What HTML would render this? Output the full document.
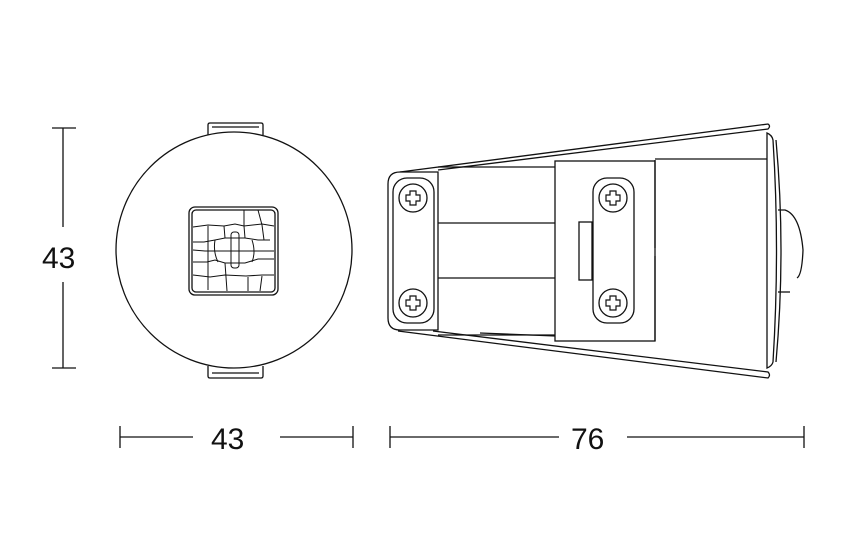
<!DOCTYPE html>
<html><head><style>
html,body{margin:0;padding:0;background:#fff;}
svg{display:block;}
text{font-family:"Liberation Sans",sans-serif;font-size:30px;fill:#111;}
</style></head><body>
<svg width="850" height="536" viewBox="0 0 850 536" xmlns="http://www.w3.org/2000/svg">
<g stroke="#111" stroke-width="1.3" fill="none">
<!-- dimension left vertical -->
<line x1="52" y1="128" x2="76" y2="128"/>
<line x1="63" y1="128" x2="63" y2="227"/>
<line x1="63" y1="282" x2="63" y2="368"/>
<line x1="52" y1="368" x2="76" y2="368"/>
<!-- bottom dims -->
<line x1="120" y1="426" x2="120" y2="448"/>
<line x1="120" y1="437" x2="193" y2="437"/>
<line x1="280" y1="437" x2="353" y2="437"/>
<line x1="353" y1="426" x2="353" y2="448"/>
<line x1="390" y1="426" x2="390" y2="448"/>
<line x1="390" y1="437" x2="559" y2="437"/>
<line x1="627" y1="437" x2="804" y2="437"/>
<line x1="804" y1="426" x2="804" y2="448"/>

<!-- circle view -->
<path d="M208,135 V125 Q208,123 210,123 H261 Q263,123 263,125 V135"/>
<line x1="212" y1="127" x2="259" y2="127"/>
<path d="M208,366 V376 Q208,378 210,378 H261 Q263,378 263,376 V366"/>
<line x1="212" y1="373" x2="259" y2="373"/>
<circle cx="234" cy="250" r="118" fill="#fff"/>
<rect x="189" y="207" width="89" height="88" rx="6"/>
<rect x="192" y="210" width="83" height="82" rx="4"/>
<g stroke-width="1">
<path d="M193,227 L208,225 L224,226 L235,224 L244,226 L262,224 L274,226"/>
<path d="M193,242 L204,242 L215,240 L225,238 L245,238 L258,240 L270,240"/>
<path d="M193,250 L205,251 L215,251 L245,251 L258,251 L274,251"/>
<path d="M193,262 L207,262 L215,260 L225,263 L245,263 L258,259 L274,259"/>
<path d="M193,275 L210,277 L225,275 L246,276 L262,275 L274,275"/>
<path d="M224,226 L225,238 M244,226 L245,238"/>
<path d="M208,226 L208,290 M225,263 L227,291 M248,277 L248,291 M262,276 L260,291"/>
<path d="M244,210 L244,226 M258,210 L262,225 M262,225 L264,240"/>
<rect x="231" y="232" width="8" height="36" rx="3"/>
<path d="M215,240 Q213,252 218,262 M252,240 Q256,252 252,262"/>
</g>

<!-- side view -->
<!-- flange lines -->
<path d="M400,172 L768,124 Q771,126 768,129 L438,170"/>
<path d="M433,331 L768,372 Q771,375 768,378 L398,331"/>
<path d="M480,333 L555,336"/>
<!-- front flange -->
<path d="M767,133 Q772,135 773,140 Q780,250 773,362 Q772,366 767,368 Z"/>
<path d="M776,140 Q786,250 776,362"/>
<!-- knob -->
<path d="M778,210 H785 Q800,215 803,250 Q802,275 797,278"/>
<line x1="778" y1="292" x2="790" y2="292"/>
<!-- right body -->
<path d="M655,159 H767 M655,341 V160"/>
<line x1="655" y1="248" x2="655" y2="256" stroke="#fff" stroke-width="3"/>
<!-- middle block -->
<rect x="555" y="161" width="100" height="180"/>
<rect x="579" y="222" width="13" height="58"/>
<!-- body between -->
<path d="M438,167 H555 M438,223 H555 M438,278 H555 M438,335 H555"/>
<!-- left clip -->
<path d="M400,172 H438 V330 H400 Q388,330 388,318 V184 Q388,172 400,172 Z" fill="#fff"/>
<rect x="393" y="178" width="41" height="145" rx="14" fill="#fff"/>
<rect x="593" y="178" width="41" height="145" rx="14" fill="#fff"/>
<g>
<circle cx="413" cy="198" r="14"/>
<circle cx="413" cy="303" r="14"/>
<circle cx="613" cy="198" r="14"/>
<circle cx="613" cy="303" r="14"/>
</g>
<g stroke-width="1.2">
<path d="M410,191 h6 v4 h4 v6 h-4 v4 h-6 v-4 h-4 v-6 h4 z"/>
<path d="M410,296 h6 v4 h4 v6 h-4 v4 h-6 v-4 h-4 v-6 h4 z"/>
<path d="M610,191 h6 v4 h4 v6 h-4 v4 h-6 v-4 h-4 v-6 h4 z"/>
<path d="M610,296 h6 v4 h4 v6 h-4 v4 h-6 v-4 h-4 v-6 h4 z"/>
</g>
</g>
<text x="42" y="268">43</text>
<text x="211" y="449">43</text>
<text x="571" y="449">76</text>
</svg>
</body></html>
